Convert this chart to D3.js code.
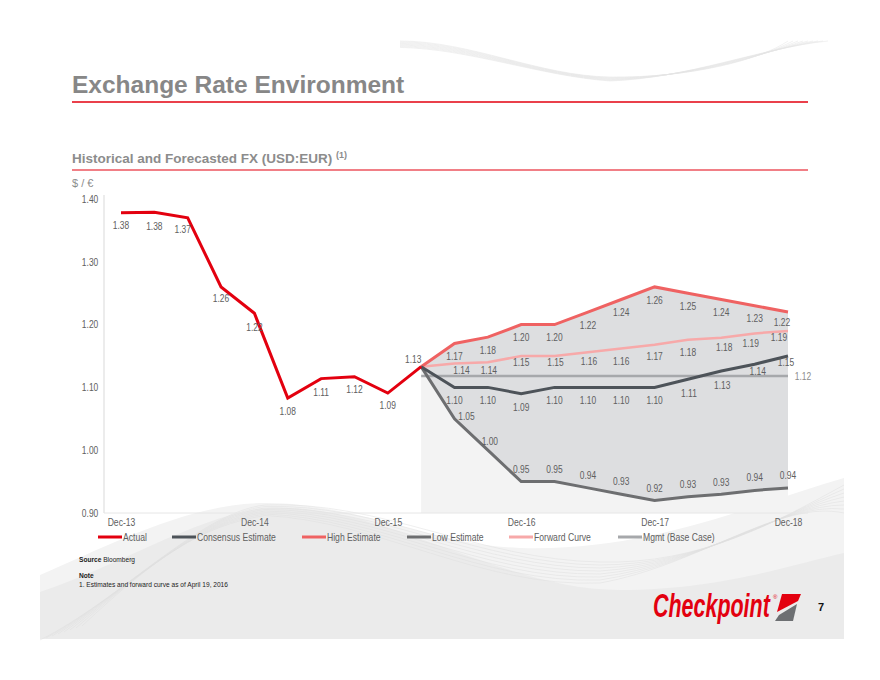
<!DOCTYPE html>
<html><head><meta charset="utf-8">
<script src="https://cdn.jsdelivr.net/npm/d3@7"></script>
<style>
html,body{margin:0;padding:0;background:#fff;}
svg{display:block;}
</style></head>
<body><svg id="c" width="880" height="680"></svg>
<script>
// ---------- data ----------
const quarters = ["Dec-13","Mar-14","Jun-14","Sep-14","Dec-14","Mar-15","Jun-15","Sep-15","Dec-15","Mar-16",
  "Jun-16","Sep-16","Dec-16","Mar-17","Jun-17","Sep-17","Dec-17","Mar-18","Jun-18","Sep-18","Dec-18"];
const tickLabels = ["Dec-13","Dec-14","Dec-15","Dec-16","Dec-17","Dec-18"];
const yTicks = [0.90,1.00,1.10,1.20,1.30,1.40];
const actual    = [1.378,1.379,1.370,1.260,1.218,1.083,1.114,1.117,1.091,1.133];
const consensus = [1.133,1.10,1.10,1.09,1.10,1.10,1.10,1.10,1.113,1.126,1.137,1.15];
const highEst   = [1.133,1.17,1.18,1.20,1.20,1.22,1.24,1.26,1.25,1.24,1.23,1.22];
const lowEst    = [1.133,1.05,1.00,0.95,0.95,0.94,0.93,0.92,0.926,0.93,0.936,0.94];
const forward   = [1.133,1.138,1.14,1.15,1.15,1.156,1.162,1.168,1.176,1.179,1.186,1.19];
const mgmt      = [1.118,1.118,1.118,1.118,1.118,1.118,1.118,1.118,1.118,1.118,1.118,1.118];
const legendNames = ["Actual","Consensus Estimate","High Estimate","Low Estimate","Forward Curve","Mgmt (Base Case)"];

// ---------- layout / style ----------
const FONT = "'Liberation Sans',Arial,sans-serif";
const TXT = "#606060";
const NARROW = 0.82;
const colors = {actual:"#e3000f", consensus:"#4d5359", high:"#ef6262", low:"#6d6e70", forward:"#f7a9a9", mgmt:"#a6a8ab"};
const fQuarters = quarters.slice(9);

const svg = d3.select("#c");
svg.append("rect").attr("width",880).attr("height",680).attr("fill","#fff");

// narrow text helper: places text at (x,y) and compresses horizontally
function ntext(parent, x0, y0, str, sx){
  return parent.append("text").attr("transform",`translate(${x0},${y0}) scale(${sx||NARROW},1)`).text(str);
}

// background decoration (bottom)
svg.append("path").attr("fill","#f3f3f3")
  .attr("d","M40,639 V575 C110,545 190,503 265,503 C360,503 430,545 520,548 C650,552 750,505 844,478 V639 Z");
svg.append("path").attr("fill","#ebebeb")
  .attr("d","M40,639 V592 C120,565 200,515 265,508 C380,500 500,590 620,590 C720,590 790,565 844,553 V639 Z");
const deco = svg.append("g").attr("fill","none").attr("stroke","#dedede").attr("stroke-width",0.5);
for (let k=0;k<8;k++){
  deco.append("path").attr("d",`M${40+k*6},${640-k*2} C${120+k*5},${600-k*6} ${200},${512+k*2} ${265},${505+k*1.5} C${380},${500+k*3} ${480},${560+k*4} ${600},${562+k*3} C${700},${565} ${780},${520-k*3} ${844},${485+k*4}`);
}
// top decoration
const topDeco = svg.append("g").attr("fill","none").attr("stroke","#e4e4e4").attr("stroke-width",0.5);
for (let k=0;k<9;k++){
  topDeco.append("path").attr("d",`M400,${41+k*0.8} C470,${41+k} 540,${76} 610,${77+k*0.5} C690,${78} 760,${60-k*1.5} ${788+k*5},${41}`);
}

// title
svg.append("text").attr("x",72).attr("y",93).text("Exchange Rate Environment")
  .attr("font-family",FONT).attr("font-weight","bold").attr("font-size",24.5).attr("fill","#878787");
svg.append("line").attr("x1",72).attr("x2",808).attr("y1",102).attr("y2",102).attr("stroke","#e3000f").attr("stroke-width",1.5);
const sub = svg.append("text").attr("x",72).attr("y",163).attr("font-family",FONT).attr("font-weight","bold").attr("font-size",13.5).attr("fill","#8c8c8c");
sub.append("tspan").text("Historical and Forecasted FX (USD:EUR) ");
sub.append("tspan").text("(1)").attr("font-size",9).attr("dy",-5);
svg.append("line").attr("x1",72).attr("x2",808).attr("y1",170).attr("y2",170).attr("stroke","#e3000f").attr("stroke-width",1.2);
svg.append("text").attr("x",72).attr("y",187).text("$ / €").attr("font-family",FONT).attr("font-size",11).attr("fill","#8c8c8c");

// scales
const x = d3.scalePoint().domain(quarters).range([121,788]);
const y = d3.scaleLinear().domain([0.90,1.40]).range([513,199]);

// shaded areas
const idx = d3.range(fQuarters.length);
svg.append("path").attr("fill","#f3f3f3")
  .attr("d", d3.area().x(i=>x(fQuarters[i])).y0(y(0.90)).y1(i=>y(lowEst[i]))(idx));
svg.append("path").attr("fill","#dddee0")
  .attr("d", d3.area().x(i=>x(fQuarters[i])).y0(i=>y(lowEst[i])).y1(i=>y(highEst[i]))(idx));

// axes
const yAxis = svg.append("g").attr("transform","translate(104,0)")
  .call(d3.axisLeft(y).tickValues(yTicks).tickSize(0).tickPadding(7).tickFormat(d3.format(".2f")));
yAxis.select(".domain").attr("stroke","#d9d9d9").attr("d","M0,195V513");
yAxis.selectAll("text").attr("font-family",FONT).attr("font-size",10.3).attr("fill",TXT).attr("transform",`scale(${NARROW},1)`);

const xAxis = svg.append("g").attr("transform","translate(0,513)")
  .call(d3.axisBottom(x).tickValues(tickLabels).tickSize(0).tickPadding(6));
xAxis.select(".domain").attr("stroke","#e6e6e6").attr("d","M104,0H808");
xAxis.selectAll("text").attr("font-family",FONT).attr("font-size",10.5).attr("fill",TXT).attr("transform",`scale(${NARROW},1)`);

// lines
const line = d3.line().x(d=>x(d[0])).y(d=>y(d[1]));
function drawLine(qs, vals, color, w){
  svg.append("path").attr("fill","none").attr("stroke",color).attr("stroke-width",w)
    .attr("stroke-linejoin","miter").attr("d", line(vals.map((v,i)=>[qs[i],v])));
}
drawLine(fQuarters, mgmt, colors.mgmt, 2.5);
drawLine(fQuarters, forward, colors.forward, 2.5);
drawLine(fQuarters, highEst, colors.high, 3);
drawLine(fQuarters, lowEst, colors.low, 3);
drawLine(fQuarters, consensus, colors.consensus, 3);
drawLine(quarters.slice(0,10), actual, colors.actual, 3);

// data labels (offsets = label placement)
const fmt = d3.format(".2f");
function labels(qs, vals, start, dx, dy){
  const g = svg.append("g").attr("font-family",FONT).attr("font-size",10.3).attr("fill",TXT).attr("text-anchor","middle");
  for (let i=start;i<vals.length;i++){
    ntext(g, x(qs[i])+(dx[i]||0), y(vals[i])+dy[i], fmt(vals[i])).attr("dy","0.35em");
  }
}
labels(quarters.slice(0,10), actual, 0, [0,0,-5,0,0,0,0,0,0,-8], [13,14,12,11,14,13,14,13,12,-7]);
labels(fQuarters, highEst, 1, [0,0,0,0,0,0,0,0,0,0,0,-6], [0,13,13,13,13,13,13,13,13,13,13,10]);
labels(fQuarters, forward, 1, [0,7,1,0,1,1,0,0,0,3,-4,-9], [0,7,8,6,6,9,13,12,13,10,10,7]);
labels(fQuarters, consensus, 1, [0,0,0,0,0,0,0,0,1,1,3,-2], [0,13,13,14,13,13,13,13,14,14,7,6]);
labels(fQuarters, lowEst, 1, [0,12,2,0,0,0,0,0,0,0,0,0], [0,-2,-9,-12,-12,-12,-13,-12,-12,-12,-13,-12]);
const ml = svg.append("g").attr("font-family",FONT).attr("font-size",10.3).attr("fill","#8c8c8c").attr("text-anchor","middle");
ntext(ml, x(fQuarters[11])+15, y(mgmt[11]), fmt(1.12)).attr("dy","0.35em");

// legend
const legColors = [colors.actual,colors.consensus,colors.high,colors.low,colors.forward,colors.mgmt];
const legX = [98,172,302,407,509,618];
const leg = svg.append("g").attr("font-family",FONT).attr("font-size",10.5).attr("fill",TXT);
legendNames.forEach((n,i)=>{
  leg.append("line").attr("x1",legX[i]).attr("x2",legX[i]+24).attr("y1",537).attr("y2",537)
    .attr("stroke",legColors[i]).attr("stroke-width",3);
  ntext(leg, legX[i]+25, 537, n).attr("dy","0.35em");
});

// footnotes
const fn = svg.append("g").attr("font-family",FONT).attr("font-size",7.5).attr("fill","#222");
const s = ntext(fn, 79, 562, "", 0.88);
s.append("tspan").text("Source").attr("font-weight","bold");
s.append("tspan").text(" Bloomberg");
ntext(fn, 79, 578, "Note", 0.88).attr("font-weight","bold");
ntext(fn, 79, 587, "1.   Estimates and forward curve as of April 19, 2016", 0.88);

// logo
ntext(svg, 653, 617, "Checkpoint", 0.65)
  .attr("font-family",FONT).attr("font-weight","bold").attr("font-style","italic").attr("font-size",33)
  .attr("fill","#e3000f");
svg.append("text").attr("x",773).attr("y",599).text("®").attr("font-family",FONT).attr("font-size",6).attr("fill","#e3000f");
svg.append("path").attr("fill","#e3000f").attr("d","M782,594 L801,594 L798,601 L777,612 Z");
svg.append("path").attr("fill","#6d6f72").attr("d","M779,615 L797,604 L793,621 L775,621 Z");
svg.append("text").attr("x",818).attr("y",611).text("7").attr("font-family",FONT).attr("font-weight","bold").attr("font-size",11).attr("fill","#111");
</script>
</body></html>
